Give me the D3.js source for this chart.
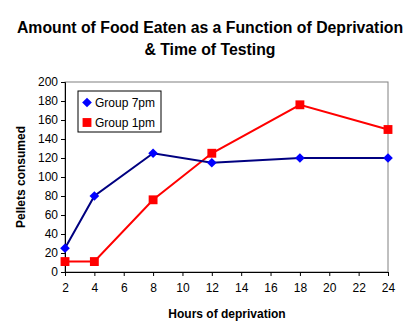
<!DOCTYPE html>
<html>
<head>
<meta charset="utf-8">
<script src="https://cdn.jsdelivr.net/npm/d3@7"></script>
<style>
  body { margin: 0; background: #fff; }
  svg { display: block; font-family: "Liberation Sans", Arial, sans-serif; }
</style>
</head>
<body>
<div id="root"></div>
<script>
const hours = [2, 4, 8, 12, 18, 24];
const group7pm = [25, 80, 125, 115, 120, 120];
const group1pm = [11, 11, 76, 125, 176, 150];
const xTicks = [2, 4, 6, 8, 10, 12, 14, 16, 18, 20, 22, 24];
const yTicks = [0, 20, 40, 60, 80, 100, 120, 140, 160, 180, 200];

const width = 416;
const height = 327;
const plot = { left: 65, right: 388, top: 82, bottom: 272 };

const svg = d3
  .select("#root")
  .append("svg")
  .attr("width", width)
  .attr("height", height);

const x = d3.scaleLinear().domain([2, 24]).range([plot.left, plot.right]);
const y = d3.scaleLinear().domain([0, 200]).range([plot.bottom, plot.top]);

// plot frame (grey top/right edges)
svg
  .append("rect")
  .attr("x", plot.left)
  .attr("y", plot.top)
  .attr("width", plot.right - plot.left)
  .attr("height", plot.bottom - plot.top)
  .attr("fill", "none")
  .attr("stroke", "#808080");

// axes
const yAxis = svg
  .append("g")
  .attr("transform", `translate(${plot.left},0)`)
  .call(d3.axisLeft(y).tickValues(yTicks).tickSize(4).tickPadding(3));

const xAxis = svg
  .append("g")
  .attr("transform", `translate(0,${plot.bottom})`)
  .call(d3.axisBottom(x).tickValues(xTicks).tickSize(4).tickPadding(7));

[xAxis, yAxis].forEach((g) => {
  g.select(".domain").attr("stroke", "#000");
  g.selectAll(".tick line").attr("stroke", "#000");
  g.selectAll(".tick text")
    .attr("fill", "#000")
    .style("font-family", "Liberation Sans, Arial, sans-serif")
    .style("font-size", "12px");
});

const series = [
  { name: "Group 7pm", values: group7pm, line: "#000080", mark: "#0000ff", symbol: d3.symbolDiamond2, size: 60 },
  { name: "Group 1pm", values: group1pm, line: "#ff0000", mark: "#ff0000", symbol: d3.symbolSquare2, size: 100 },
];

const line = d3
  .line()
  .x((d) => x(d[0]))
  .y((d) => y(d[1]));

// draw 1pm first so 7pm sits on top
series
  .slice()
  .reverse()
  .forEach((s) => {
    const pts = hours.map((h, i) => [h, s.values[i]]);
    svg
      .append("path")
      .datum(pts)
      .attr("fill", "none")
      .attr("stroke", s.line)
      .attr("stroke-width", 2)
      .attr("d", line);

    svg
      .append("g")
      .selectAll("path")
      .data(pts)
      .join("path")
      .attr("transform", (d) => `translate(${x(d[0])},${y(d[1])})`)
      .attr("d", d3.symbol(s.symbol, s.size))
      .attr("fill", s.mark);
  });

// legend
const legend = svg.append("g").attr("transform", "translate(78,91)");
legend
  .append("rect")
  .attr("width", 83)
  .attr("height", 41)
  .attr("fill", "#fff")
  .attr("stroke", "#000");

series.forEach((s, i) => {
  const row = legend.append("g").attr("transform", `translate(9,${11.5 + i * 20})`);
  row
    .append("path")
    .attr("d", d3.symbol(s.symbol, s.size))
    .attr("fill", s.mark);
  row
    .append("text")
    .attr("x", 8)
    .attr("dy", "0.35em")
    .style("font-size", "12px")
    .text(s.name);
});

// titles
const title = svg
  .append("text")
  .attr("x", 210)
  .attr("y", 33)
  .attr("text-anchor", "middle")
  .style("font-size", "15.8px")
  .style("font-weight", "bold");
title.append("tspan").attr("x", 210).text("Amount of Food Eaten as a Function of Deprivation");
title.append("tspan").attr("x", 210).attr("dy", 22).text("& Time of Testing");

svg
  .append("text")
  .attr("x", 227)
  .attr("y", 318)
  .attr("text-anchor", "middle")
  .style("font-size", "12px")
  .style("font-weight", "bold")
  .text("Hours of deprivation");

svg
  .append("text")
  .attr("transform", "translate(25,177) rotate(-90)")
  .attr("text-anchor", "middle")
  .style("font-size", "12px")
  .style("font-weight", "bold")
  .text("Pellets consumed");
</script>
</body>
</html>
